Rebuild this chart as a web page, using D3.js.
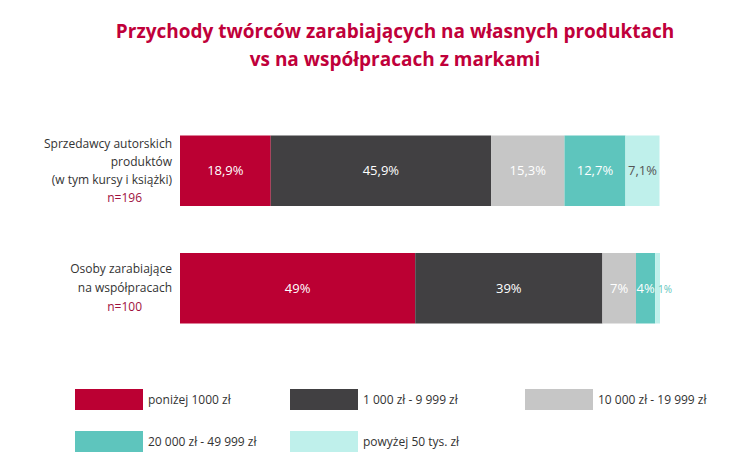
<!DOCTYPE html><html><head><meta charset="utf-8"><script src="https://cdn.jsdelivr.net/npm/d3@7"></script>
<style>body{margin:0;background:#fff}text{font-family:"Open Sans",Lato,sans-serif}</style></head><body>
<svg id="c" width="754" height="476"></svg>
<script>
const categories=["Sprzedawcy autorskich produktów","Osoby zarabiające na współpracach"];
const catLines=[["Sprzedawcy autorskich","produktów","(w tym kursy i książki)"],["Osoby zarabiające","na współpracach"]];
const sampleSizes=["n=196","n=100"];
const seriesNames=["poniżej 1000 zł","1 000 zł - 9 999 zł","10 000 zł - 19 999 zł","20 000 zł - 49 999 zł","powyżej 50 tys. zł"];
const row1=[18.9,45.9,15.3,12.7,7.1];
const row2=[49,39,7,4,1];
const labels1=["18,9%","45,9%","15,3%","12,7%","7,1%"];
const labels2=["49%","39%","7%","4%","1%"];
const colors=["#bb0033","#414042","#c6c6c6","#5ec5bd","#bff0eb"];
const rows=[row1,row2], rowLabels=[labels1,labels2];
const svg=d3.select("#c");
svg.append("text").attr("x",395).attr("y",38).attr("text-anchor","middle").attr("fill","#c0003a").attr("font-size",19).attr("font-weight",700).text("Przychody twórców zarabiających na własnych produktach");
svg.append("text").attr("x",395).attr("y",66).attr("text-anchor","middle").attr("fill","#c0003a").attr("font-size",19).attr("font-weight",700).text("vs na współpracach z markami");
const x=d3.scaleLinear().domain([0,100]).range([180,660]);
const y=d3.scaleBand().domain(categories).range([112,347]).paddingInner(0.4).paddingOuter(0.2);
rows.forEach((vals,ri)=>{
  const cat=categories[ri];let cum=0;
  vals.forEach((v,i)=>{
    const x0=x(cum),x1=x(cum+v);cum+=v;
    svg.append("rect").attr("x",x0).attr("y",y(cat)).attr("width",x1-x0).attr("height",y.bandwidth()).attr("fill",colors[i]);
    const small=v<3;
    svg.append("text").attr("x",small?x1+5:(x0+x1)/2).attr("y",y(cat)+y.bandwidth()/2+4.5)
      .attr("text-anchor","middle").attr("font-size",small?10:13)
      .attr("fill",i===4?(small?"#5ec5bd":"#555"):"#fff").text(rowLabels[ri][i]);
  });
  const lines=catLines[ri].concat([sampleSizes[ri]]);
  const lh=ri===0?18:19, cy=y(cat)+y.bandwidth()/2;
  lines.forEach((l,k)=>{
    svg.append("text").attr("x",172).attr("y",cy-(lines.length-1)*lh/2+k*lh+4).attr("text-anchor","end")
      .attr("font-size",12).attr("fill",k===lines.length-1?"#a0103d":"#333")
      .attr("dx",k===lines.length-1?-(ri===0?30:30):0).text(l);
  });
});
const lx=[75,290,525], ly=[389,431];
seriesNames.forEach((s,i)=>{
  const cx=lx[i%3], cy=ly[Math.floor(i/3)];
  svg.append("rect").attr("x",cx).attr("y",cy).attr("width",68).attr("height",21).attr("fill",colors[i]);
  svg.append("text").attr("x",cx+73).attr("y",cy+15).attr("font-size",12).attr("fill","#333").text(s);
});
</script></body></html>
